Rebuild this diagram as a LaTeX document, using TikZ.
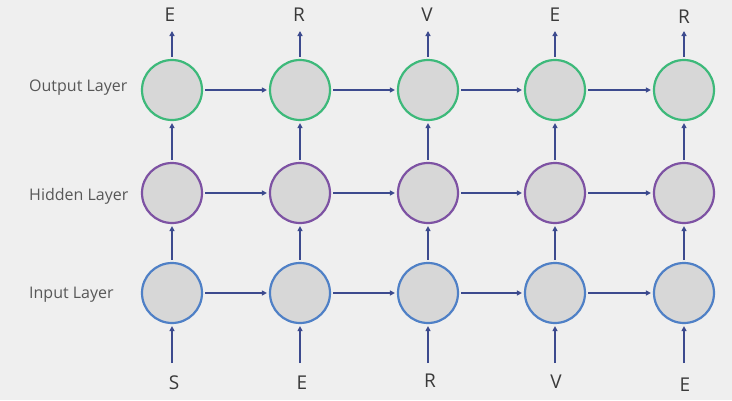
\documentclass[tikz,border=0pt]{standalone}
\usepackage{fontspec}
\setmainfont{Open Sans}
\usetikzlibrary{arrows.meta}
\definecolor{bgc}{HTML}{EFEFEF}
\definecolor{fillc}{HTML}{D7D7D7}
\definecolor{outc}{HTML}{3DB97A}
\definecolor{hidc}{HTML}{7D52A3}
\definecolor{inc}{HTML}{4F80C6}
\definecolor{arrc}{HTML}{3C4A8E}
\definecolor{txtc}{HTML}{3A3A3A}
\tikzset{
  unit/.style={circle, minimum size=60pt, inner sep=0pt, fill=fillc, line width=2.2pt},
  outu/.style={unit, draw=outc},
  hidu/.style={unit, draw=hidc},
  inu/.style={unit, draw=inc},
  conn/.style={arrc, line width=1.8pt, -{Triangle[length=5pt,width=5pt]}, shorten >=2pt, shorten <=2pt},
  letter/.style={text=txtc, font=\fontsize{19}{22}\selectfont, inner sep=0pt},
  layer/.style={text=txtc!85, font=\fontsize{16}{19}\selectfont, inner sep=0pt, anchor=west},
}
\begin{document}
\begin{tikzpicture}[x=1pt,y=-1pt]
\path[fill=bgc] (0,0) rectangle (732,400);
\useasboundingbox (0,0) rectangle (732,400);
\foreach \i/\x in {1/172,2/300,3/428,4/555,5/684}{
  \node[outu] (o\i) at (\x,90) {};
  \node[hidu] (h\i) at (\x,193) {};
  \node[inu]  (n\i) at (\x,293) {};
}
\node[layer] (lo) at (29,88) {Output Layer};
\node[layer] (lh) at (29,196) {Hidden Layer};
\node[layer] (li) at (29,295) {Input Layer};
% top letters
\node[letter] (t1) at (170,15) {E};
\node[letter] (t2) at (299,15) {R};
\node[letter] (t3) at (427,15) {V};
\node[letter] (t4) at (555,15) {E};
\node[letter] (t5) at (684,17) {R};
% bottom letters
\node[letter] (b1) at (174,383) {S};
\node[letter] (b2) at (302,383) {E};
\node[letter] (b3) at (430,381) {R};
\node[letter] (b4) at (556,382) {V};
\node[letter] (b5) at (685,385) {E};
\foreach \i/\x in {1/172,2/300,3/428,4/555,5/684}{
  \coordinate (tt\i) at (\x,31);
  \coordinate (bb\i) at (\x,363);
}
\foreach \i in {1,...,5}{
  \draw[conn, shorten >=0pt] (o\i.north) -- (tt\i);
  \draw[conn, shorten <=0pt] (bb\i) -- (n\i.south);
  \draw[conn] (h\i.north) -- (o\i.south);
  \draw[conn] (n\i.north) -- (h\i.south);
}
\foreach \i/\j in {1/2,2/3,3/4,4/5}{
  \draw[conn] (o\i.east) -- (o\j.west);
  \draw[conn] (h\i.east) -- (h\j.west);
  \draw[conn] (n\i.east) -- (n\j.west);
}
\end{tikzpicture}
\end{document}
